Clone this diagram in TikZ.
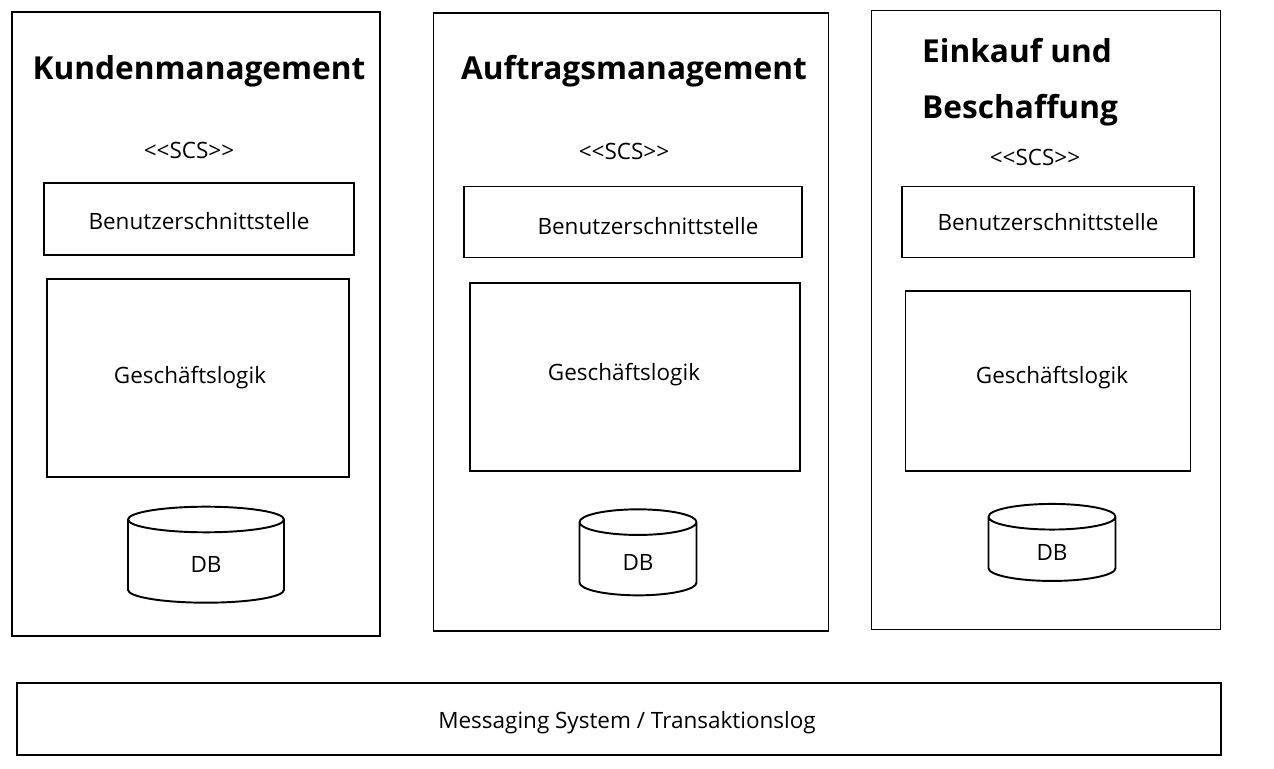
\documentclass[tikz,border=0pt]{standalone}
\usepackage{fontspec}
\setmainfont{Open Sans}
\usetikzlibrary{shapes.geometric}

\tikzset{
	box/.style={draw, line width=1.1pt, inner sep=0pt},
	titel/.style={font=\bfseries\fontsize{18}{22}\selectfont},
	label/.style={font=\fontsize{12.8}{15}\selectfont},
	db/.style={draw, line width=1.1pt, shape=cylinder, shape border rotate=90, aspect=0.6, font=\fontsize{12.8}{15}\selectfont}
}
\newcommand{\scslabel}{{<}{<}SCS{>}{>}}

\begin{document}
\begin{tikzpicture}[x=0.02cm, y=-0.02cm]
	\useasboundingbox (0,0) rectangle (1274,768);

	% Kundenmanagement
	\node[box, minimum width=368*0.02cm, minimum height=624*0.02cm] (K) at (196, 324) {};
	\node[titel] (Kt) at (199, 71) {Kundenmanagement};
	\node[label] (Ks) at (189, 150) {\scslabel};
	\node[box, minimum width=310*0.02cm, minimum height=72*0.02cm] (Kb) at (199, 219) {};
	\node[label] at (199, 221) {Benutzerschnittstelle};
	\node[box, minimum width=302*0.02cm, minimum height=198*0.02cm] (Kg) at (198, 378) {};
	\node[label] at (190, 378) {Geschäftslogik};
	\node[db, minimum width=156*0.02cm, minimum height=96*0.02cm] (Kd) at (206, 564) {DB};

	% Auftragsmanagement
	\node[box, minimum width=395*0.02cm, minimum height=618*0.02cm] (A) at (631, 322) {};
	\node[titel] (At) at (634, 71) {Auftragsmanagement};
	\node[label] (As) at (624, 151) {\scslabel};
	\node[box, minimum width=338*0.02cm, minimum height=71*0.02cm] (Ab) at (633, 222) {};
	\node[label] at (648, 226) {Benutzerschnittstelle};
	\node[box, minimum width=330*0.02cm, minimum height=188*0.02cm] (Ag) at (635, 377) {};
	\node[label] at (624, 375) {Geschäftslogik};
	\node[db, minimum width=117*0.02cm, minimum height=86*0.02cm] (Ad) at (638, 562) {DB};

	% Einkauf und Beschaffung
	\node[box, minimum width=349*0.02cm, minimum height=619*0.02cm] (E) at (1046, 320) {};
	\node[titel, align=left, anchor=west] (Et) at (916, 82) {Einkauf und\\[10pt]Beschaffung};
	\node[label] (Es) at (1035, 157) {\scslabel};
	\node[box, minimum width=292*0.02cm, minimum height=71*0.02cm, label] (Eb) at (1048, 222) {Benutzerschnittstelle};
	\node[box, minimum width=285*0.02cm, minimum height=180*0.02cm] (Eg) at (1048, 381) {};
	\node[label] at (1052, 378) {Geschäftslogik};
	\node[db, minimum width=127*0.02cm, minimum height=77*0.02cm] (Ed) at (1052, 552) {DB};

	% Messaging System
	\node[box, minimum width=1204*0.02cm, minimum height=72*0.02cm] (M) at (619, 719) {};
	\node[label] at (627, 723) {Messaging System / Transaktionslog};
\end{tikzpicture}
\end{document}
